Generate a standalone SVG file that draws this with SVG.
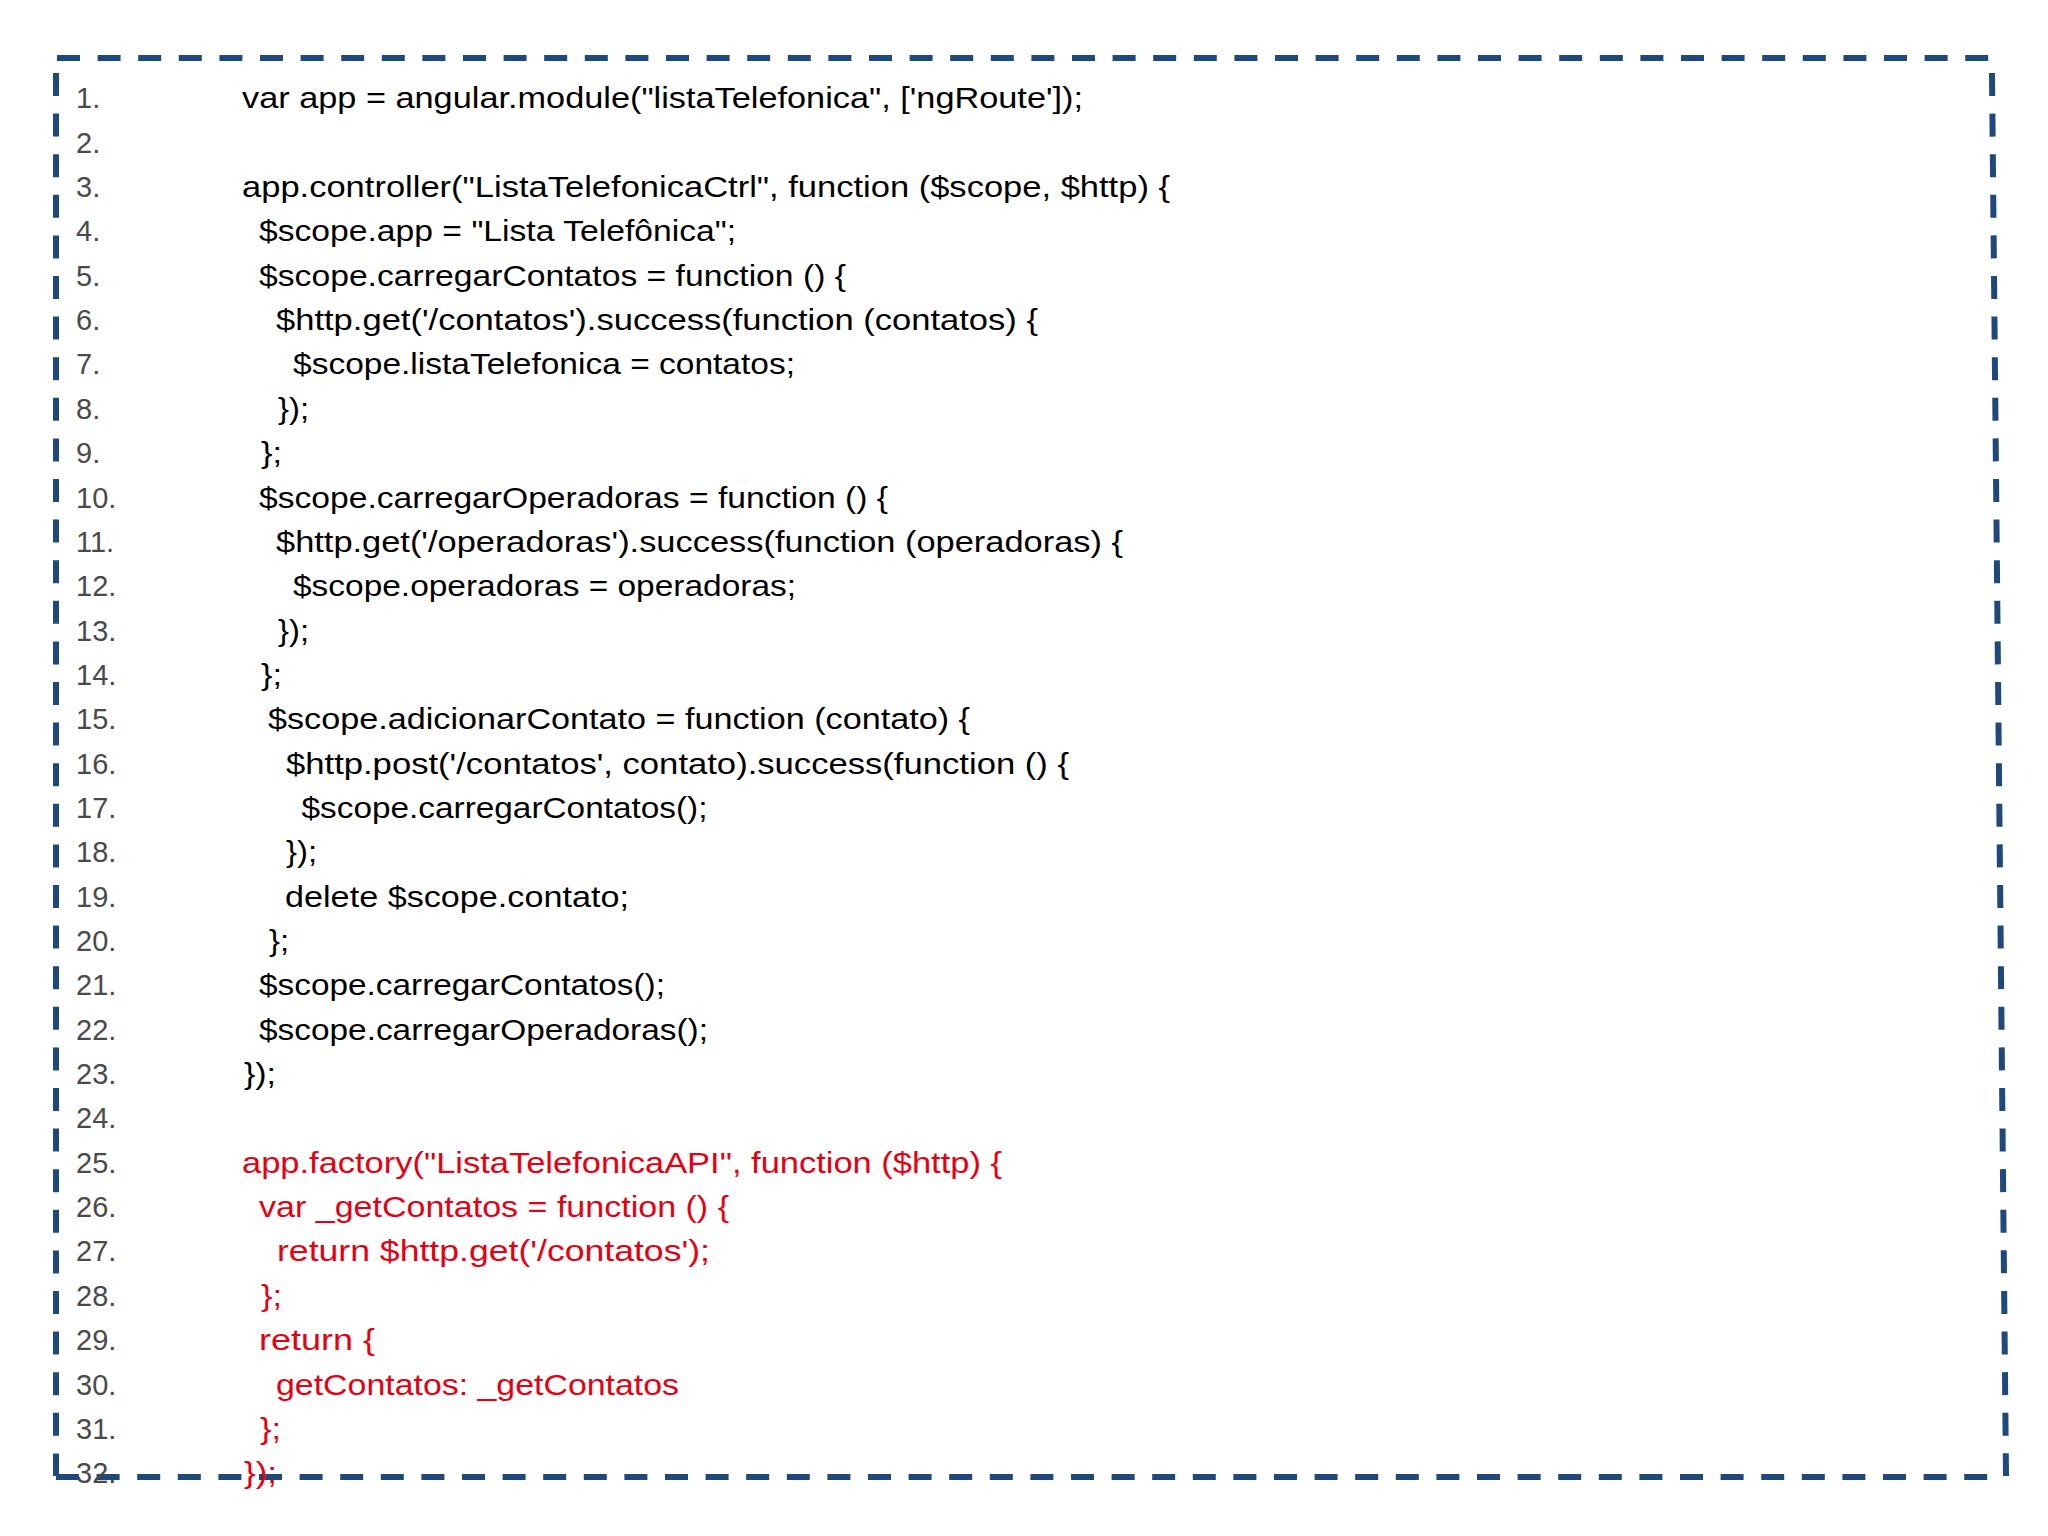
<svg xmlns="http://www.w3.org/2000/svg" width="2048" height="1536" viewBox="0 0 2048 1536">
<style>
.b{stroke:#1F487C;stroke-width:6;fill:none;stroke-dasharray:23 17.6}
.n{font-family:"Liberation Sans",Arial,sans-serif;font-size:29px;fill:#4a4a4a}
.c{font-family:"Liberation Sans",Arial,sans-serif;font-size:29px;fill:#000}
.r{font-family:"Liberation Sans",Arial,sans-serif;font-size:29px;fill:#E60012}
</style>
<rect width="2048" height="1536" fill="#FFFFFF"/>
<g id="border">
<line class="b" x1="57" y1="58" x2="1992" y2="58"/>
<line class="b" x1="56" y1="73" x2="56" y2="1476"/>
<line class="b" x1="1992" y1="73" x2="2006" y2="1476"/>
<line class="b" x1="56" y1="1477" x2="1992" y2="1477"/>
</g>
<g id="line-numbers" class="n">
<text x="76" y="108.3">1.</text>
<text x="76" y="152.6">2.</text>
<text x="76" y="197">3.</text>
<text x="76" y="241.4">4.</text>
<text x="76" y="285.7">5.</text>
<text x="76" y="330.1">6.</text>
<text x="76" y="374.4">7.</text>
<text x="76" y="418.8">8.</text>
<text x="76" y="463.1">9.</text>
<text x="76" y="507.5">10.</text>
<text x="76" y="551.8">11.</text>
<text x="76" y="596.2">12.</text>
<text x="76" y="640.5">13.</text>
<text x="76" y="684.9">14.</text>
<text x="76" y="729.2">15.</text>
<text x="76" y="773.6">16.</text>
<text x="76" y="817.9">17.</text>
<text x="76" y="862.3">18.</text>
<text x="76" y="906.6">19.</text>
<text x="76" y="951">20.</text>
<text x="76" y="995.3">21.</text>
<text x="76" y="1039.7">22.</text>
<text x="76" y="1084">23.</text>
<text x="76" y="1128.4">24.</text>
<text x="76" y="1172.7">25.</text>
<text x="76" y="1217.1">26.</text>
<text x="76" y="1261.4">27.</text>
<text x="76" y="1305.8">28.</text>
<text x="76" y="1350.1">29.</text>
<text x="76" y="1394.5">30.</text>
<text x="76" y="1438.8">31.</text>
<text x="76" y="1483.2">32.</text>
</g>
<g id="controller-code" class="c" style="white-space:pre">
<text x="242" y="108.3" textLength="841" lengthAdjust="spacingAndGlyphs">var app = angular.module("listaTelefonica", ['ngRoute']);</text>
<text x="242" y="197" textLength="928" lengthAdjust="spacingAndGlyphs">app.controller("ListaTelefonicaCtrl", function ($scope, $http) {</text>
<text x="259" y="241.4" textLength="477" lengthAdjust="spacingAndGlyphs">$scope.app = "Lista Telefônica";</text>
<text x="259" y="285.7" textLength="587" lengthAdjust="spacingAndGlyphs">$scope.carregarContatos = function () {</text>
<text x="276" y="330.1" textLength="762" lengthAdjust="spacingAndGlyphs">$http.get('/contatos').success(function (contatos) {</text>
<text x="293" y="374.4" textLength="502" lengthAdjust="spacingAndGlyphs">$scope.listaTelefonica = contatos;</text>
<text x="278" y="418.8" textLength="31" lengthAdjust="spacingAndGlyphs">});</text>
<text x="261" y="463.1" textLength="21" lengthAdjust="spacingAndGlyphs">};</text>
<text x="259" y="507.5" textLength="629" lengthAdjust="spacingAndGlyphs">$scope.carregarOperadoras = function () {</text>
<text x="276" y="551.8" textLength="847" lengthAdjust="spacingAndGlyphs">$http.get('/operadoras').success(function (operadoras) {</text>
<text x="293" y="596.2" textLength="503" lengthAdjust="spacingAndGlyphs">$scope.operadoras = operadoras;</text>
<text x="278" y="640.5" textLength="31" lengthAdjust="spacingAndGlyphs">});</text>
<text x="261" y="684.9" textLength="21" lengthAdjust="spacingAndGlyphs">};</text>
<text x="268" y="729.2" textLength="702" lengthAdjust="spacingAndGlyphs">$scope.adicionarContato = function (contato) {</text>
<text x="286" y="773.6" textLength="783" lengthAdjust="spacingAndGlyphs">$http.post('/contatos', contato).success(function () {</text>
<text x="301.5" y="817.9" textLength="406" lengthAdjust="spacingAndGlyphs">$scope.carregarContatos();</text>
<text x="286" y="862.3" textLength="31" lengthAdjust="spacingAndGlyphs">});</text>
<text x="285" y="906.6" textLength="344" lengthAdjust="spacingAndGlyphs">delete $scope.contato;</text>
<text x="269" y="951" textLength="20" lengthAdjust="spacingAndGlyphs">};</text>
<text x="259" y="995.3" textLength="406" lengthAdjust="spacingAndGlyphs">$scope.carregarContatos();</text>
<text x="259" y="1039.7" textLength="449" lengthAdjust="spacingAndGlyphs">$scope.carregarOperadoras();</text>
<text x="244" y="1084" textLength="32" lengthAdjust="spacingAndGlyphs">});</text>
</g>
<g id="factory-code" class="r">
<text x="242" y="1172.7" textLength="760" lengthAdjust="spacingAndGlyphs">app.factory("ListaTelefonicaAPI", function ($http) {</text>
<text x="259" y="1217.1" textLength="470" lengthAdjust="spacingAndGlyphs">var _getContatos = function () {</text>
<text x="277" y="1261.4" textLength="433" lengthAdjust="spacingAndGlyphs">return $http.get('/contatos');</text>
<text x="261" y="1305.8" textLength="21" lengthAdjust="spacingAndGlyphs">};</text>
<text x="259" y="1350.1" textLength="116" lengthAdjust="spacingAndGlyphs">return {</text>
<text x="276" y="1394.5" textLength="403" lengthAdjust="spacingAndGlyphs">getContatos: _getContatos</text>
<text x="260" y="1438.8" textLength="21" lengthAdjust="spacingAndGlyphs">};</text>
<text x="244" y="1483.2" textLength="33" lengthAdjust="spacingAndGlyphs">});</text>
</g>
</svg>
